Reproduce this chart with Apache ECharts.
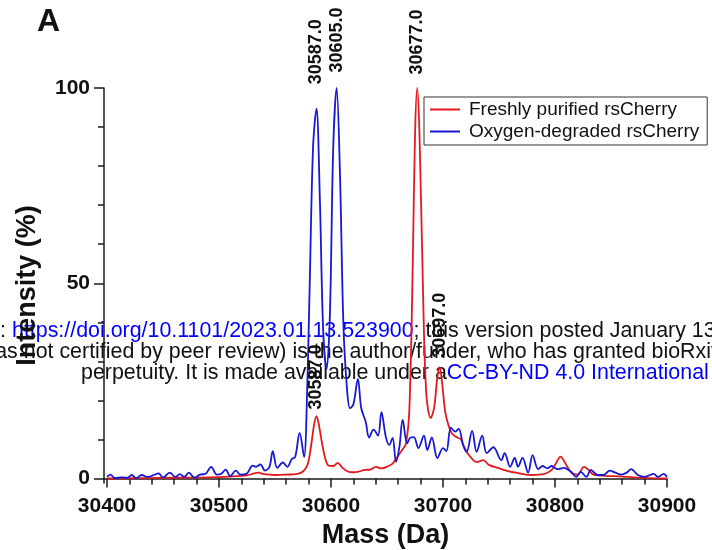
<!DOCTYPE html>
<html lang="en">
<head>
  <meta charset="UTF-8">
  <script src="https://cdn.jsdelivr.net/npm/echarts@6/dist/echarts.min.js"></script>
  <style>
    html, body { margin: 0; padding: 0; background: #fff; }
    #container { width: 712px; height: 550px; }
  </style>
</head>
<body>
  <div id="container"></div>
  <script>
    // Freshly purified rsCherry (red)
    var redMass = [30400, 30430, 30460, 30490, 30510, 30525, 30530, 30535, 30540, 30550, 30560, 30570, 30575, 30579,
      30582, 30585, 30587, 30589, 30592, 30595, 30598, 30602, 30606, 30610, 30615, 30620, 30625, 30630, 30635, 30640,
      30645, 30650, 30655, 30658, 30661, 30664, 30667, 30670, 30673, 30675, 30677, 30679, 30682, 30685, 30689, 30692,
      30695, 30697, 30699, 30702, 30705, 30708, 30712, 30716, 30719, 30722, 30726, 30730, 30736, 30741, 30749, 30758,
      30767, 30779, 30790, 30797, 30801, 30805, 30808, 30811, 30815, 30820, 30826, 30830, 30835, 30845, 30860, 30870,
      30885, 30900];
    var redIntensity = [0, 0.1, 0.2, 0.3, 0.5, 0.8, 1.2, 1.5, 1.1, 0.9, 1.0, 1.2, 1.8, 3.5,
      8, 14, 16, 14, 9, 5, 3.3, 3.2, 4, 2.8, 1.8, 1.6, 1.8, 2.2, 2.3, 3.0,
      2.6, 3.0, 3.8, 5, 6.3, 7.5, 9, 18, 55, 88, 100, 88, 50, 22, 15.5, 18,
      26, 28.5, 25, 17, 13.5, 11.5, 10.6, 10, 8, 6.5, 5, 4.2, 4.7, 3.5, 2.7, 1.9,
      1.4, 0.9, 1.1, 2.2, 4, 5.6, 4.5, 3, 1.4, 1.0, 3.0, 2.2, 0.9, 0.7, 0.5, 0.3,
      0.1, 0];

    // Oxygen-degraded rsCherry (blue)
    var blueMass = [30400, 30403, 30407, 30414, 30418, 30422, 30426, 30431, 30436, 30441, 30446, 30450, 30456, 30461,
      30465, 30469, 30473, 30478, 30483, 30488, 30493, 30498, 30502, 30506, 30510, 30515, 30519, 30525, 30530, 30533,
      30537, 30541, 30545, 30548, 30552, 30557, 30561, 30565, 30568, 30572, 30576, 30578, 30581, 30584, 30587, 30590,
      30593, 30596, 30599, 30602, 30605, 30608, 30611, 30614, 30617, 30620, 30624, 30627, 30631, 30634, 30638, 30642,
      30645, 30649, 30652, 30655, 30658, 30661, 30664, 30668, 30671, 30674, 30678, 30683, 30686, 30690, 30695, 30700,
      30703, 30707, 30711, 30714, 30718, 30721, 30726, 30730, 30735, 30739, 30745, 30752, 30755, 30760, 30764, 30767,
      30771, 30776, 30780, 30785, 30789, 30793, 30797, 30802, 30808, 30814, 30819, 30823, 30828, 30832, 30838, 30843,
      30849, 30854, 30859, 30864, 30868, 30874, 30880, 30884, 30888, 30892, 30897, 30900];
    var blueIntensity = [0.4, 1.0, 0.1, 0.3, 0.2, 0.9, 0.1, 0.9, 0.4, 0.8, 1.3, 0.3, 1.5, 0.4,
      1.1, 0.4, 1.5, 0.2, 1.0, 1.2, 3.0, 1.0, 1.2, 2.3, 0.6, 2.0, 1.0, 1.3, 3.3, 3.0,
      3.6, 2.0, 3.0, 7.0, 2.7, 4.1, 3.0, 5.0, 5.5, 11.7, 5.5, 15, 50, 85, 94.7, 72,
      38, 28, 42, 85, 100, 78, 40, 24, 18, 19, 25.5, 18, 14.5, 10.5, 12.5, 11,
      17, 10.6, 8.6, 10.4, 4.3, 8, 15, 9, 10.5, 10.6, 7.8, 11, 7.3, 10.5, 5.2, 7.8,
      7, 13, 12, 12.7, 8.5, 6.8, 12.2, 6.8, 11, 6.5, 8, 4.7, 6.5, 3, 5.3, 3,
      5.3, 1.5, 6, 2.4, 3.2, 2.6, 3.2, 2.4, 2.7, 1.8, 0.4, 1.7, 0.4, 2.2, 0.9, 0.9,
      2, 1.5, 1, 1.5, 2.4, 0.9, 0.4, 0.8, 1.2, 0.4, 1.2, 0.4];

    // annotated peaks
    var bluePeaks = [30587, 30605];
    var redPeaks = [30677, 30697, 30587];

    var xTickLabels = [30400, 30500, 30600, 30700, 30800, 30900];
    var yTickLabels = [0, 50, 100];

    var FONT = '"Liberation Sans", Arial, sans-serif';
    var RED = '#e3191e';
    var BLUE = '#1717d4';

    function pairs(xs, ys) {
      var res = [];
      for (var i = 0; i < xs.length; i++) res.push([xs[i], ys[i]]);
      return res;
    }
    function seq(a, b, step) {
      var res = [];
      for (var v = a; v <= b; v += step) res.push(v);
      return res;
    }
    function peakPoints(xs, ys, peaks, gaps) {
      return peaks.map(function (m, k) {
        var i = xs.indexOf(m);
        return {
          coord: [m, ys[i]],
          value: m.toFixed(1),
          label: { distance: gaps[k] }
        };
      });
    }
    var peakLabel = {
      show: true,
      position: 'top',
      rotate: 90,
      align: 'left',
      verticalAlign: 'middle',
      formatter: '{c}',
      fontFamily: FONT,
      fontWeight: 'bold',
      fontSize: 18,
      color: '#111'
    };

    var myChart = echarts.init(document.getElementById('container'));

    var axisLine = { show: true, lineStyle: { color: '#1a1a1a', width: 1.5 } };

    var option = {
      animation: false,
      backgroundColor: '#fff',
      textStyle: { fontFamily: FONT },
      grid: { left: 104, right: 45, top: 88, bottom: 67, outerBoundsMode: 'none' },
      legend: {
        left: 424,
        top: 97,
        orient: 'vertical',
        icon: 'rect',
        itemWidth: 30,
        itemHeight: 2,
        itemGap: 1,
        padding: [2, 8, 3, 6],
        borderColor: '#333',
        borderWidth: 1,
        backgroundColor: '#fff',
        textStyle: { fontFamily: FONT, fontSize: 19, color: '#111', padding: [0, 0, 0, 4], lineHeight: 21 },
        data: ['Freshly purified rsCherry', 'Oxygen-degraded rsCherry']
      },
      xAxis: [{
        type: 'value',
        min: 30397.3,
        max: 30900,
        name: 'Mass (Da)',
        nameLocation: 'middle',
        nameGap: 33,
        nameTextStyle: { fontFamily: FONT, fontWeight: 'bold', fontSize: 27, color: '#111' },
        axisLine: axisLine,
        splitLine: { show: false },
        axisTick: { show: true, length: 9, customValues: xTickLabels, lineStyle: { color: '#1a1a1a', width: 1.5 } },
        axisLabel: {
          customValues: xTickLabels,
          margin: 13,
          formatter: function (v) { return String(v); },
          fontFamily: FONT, fontWeight: 'bold', fontSize: 21, color: '#111'
        }
      }, {
        type: 'value',
        position: 'bottom',
        gridIndex: 0,
        min: 30397.3,
        max: 30900,
        axisLine: { show: false },
        splitLine: { show: false },
        axisTick: { show: true, length: 6, customValues: seq(30400, 30900, 20), lineStyle: { color: '#1a1a1a', width: 1.5 } },
        axisLabel: { show: false }
      }],
      yAxis: [{
        type: 'value',
        min: -1.15,
        max: 100,
        name: 'Intensity (%)',
        nameLocation: 'middle',
        nameGap: 63,
        nameTextStyle: { fontFamily: FONT, fontWeight: 'bold', fontSize: 27, color: '#111' },
        axisLine: axisLine,
        splitLine: { show: false },
        axisTick: { show: true, length: 10, customValues: yTickLabels, lineStyle: { color: '#1a1a1a', width: 1.5 } },
        axisLabel: { customValues: yTickLabels, margin: 14, fontFamily: FONT, fontWeight: 'bold', fontSize: 21, color: '#111' }
      }, {
        type: 'value',
        position: 'left',
        min: -1.15,
        max: 100,
        axisLine: { show: false },
        splitLine: { show: false },
        axisTick: { show: true, length: 6, customValues: seq(0, 100, 10), lineStyle: { color: '#1a1a1a', width: 1.5 } },
        axisLabel: { show: false }
      }],
      series: [{
        name: 'Freshly purified rsCherry',
        type: 'line',
        symbol: 'none',
        smooth: 0.35,
        lineStyle: { color: RED, width: 1.8 },
        itemStyle: { color: RED },
        data: pairs(redMass, redIntensity),
        markPoint: {
          symbol: 'circle',
          symbolSize: 1,
          itemStyle: { color: 'rgba(0,0,0,0)' },
          label: peakLabel,
          data: peakPoints(redMass, redIntensity, redPeaks, [13, 9, 6])
        }
      }, {
        name: 'Oxygen-degraded rsCherry',
        type: 'line',
        symbol: 'none',
        smooth: 0.35,
        lineStyle: { color: BLUE, width: 1.8 },
        itemStyle: { color: BLUE },
        data: pairs(blueMass, blueIntensity),
        markPoint: {
          symbol: 'circle',
          symbolSize: 1,
          itemStyle: { color: 'rgba(0,0,0,0)' },
          label: peakLabel,
          data: peakPoints(blueMass, blueIntensity, bluePeaks, [24, 15])
        }
      }],
      graphic: [{
        type: 'text',
        left: 37,
        top: 6,
        style: { text: 'A', font: 'bold 32px ' + FONT, fill: '#111' }
      }, {
        type: 'group',
        z: 100,
        children: [{
          type: 'text',
          x: -183,
          y: 331,
          style: {
            text: '{k|bioRxiv preprint doi: }{b|https://doi.org/10.1101/2023.01.13.523900}{k|; this version posted January 13, 2023. The copyright holder for this preprint}',
            verticalAlign: 'middle',
            rich: {
              k: { fontFamily: FONT, fontSize: 21.4, fill: '#111' },
              b: { fontFamily: FONT, fontSize: 21.4, fill: '#0000ff' }
            }
          }
        }, {
          type: 'text',
          x: -88,
          y: 352,
          style: {
            text: '(which was not certified by peer review) is the author/funder, who has granted bioRxiv a license to display the preprint in',
            verticalAlign: 'middle',
            fontFamily: FONT,
            fontSize: 21.4,
            fill: '#111'
          }
        }, {
          type: 'text',
          x: 81,
          y: 373,
          style: {
            text: '{k|perpetuity. It is made available under a}{b|CC-BY-ND 4.0 International license}{k|.}',
            verticalAlign: 'middle',
            rich: {
              k: { fontFamily: FONT, fontSize: 21.4, fill: '#111' },
              b: { fontFamily: FONT, fontSize: 21.4, fill: '#0000ff' }
            }
          }
        }]
      }]
    };

    myChart.setOption(option);
  </script>
</body>
</html>
